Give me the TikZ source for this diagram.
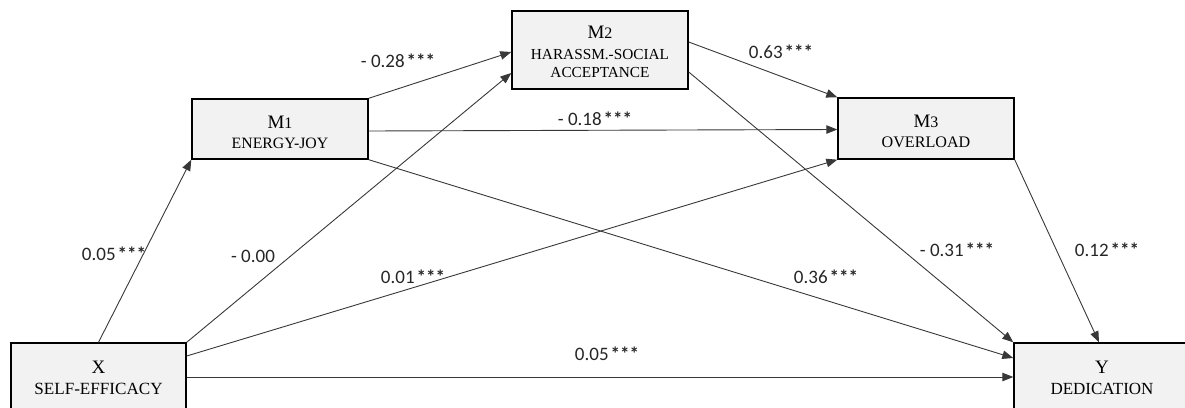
\documentclass[tikz,border=0pt]{standalone}
\usepackage{fontspec}
\setmainfont{Liberation Serif}
\newfontfamily\lblfont{Carlito}
\usetikzlibrary{arrows.meta,calc}
\definecolor{boxfill}{HTML}{F2F2F2}
\definecolor{linec}{HTML}{383838}
% title letter with a smaller index; #1 = strut height above the first baseline
\newcommand{\boxtitle}[3]{\rule{0pt}{#1pt}{\fontsize{19}{19}\selectfont #2}{\fontsize{16}{16}\selectfont #3}}
\newcommand{\lastline}[1]{\rule[-4pt]{0pt}{4pt}#1}
\newcommand{\sigstars}{\kern2pt{\bfseries ***}}
\begin{document}
\begin{tikzpicture}[x=1pt,y=-1pt,
  box/.style={draw=black, line width=1.4pt, fill=boxfill, minimum width=176pt,
    align=center, inner sep=0pt},
  conn/.style={draw=linec, line width=0.9pt, -{Triangle[length=11pt,width=8.5pt]}},
  coef/.style={font=\lblfont\fontsize{19}{19}\selectfont, inner sep=0pt, text=black!85}]
\useasboundingbox (0,0) rectangle (1185,407);

\node[box, minimum height=60pt, font=\fontsize{15.8}{20}\selectfont] (m1) at (280,129)
  {\boxtitle{22}{M}{1}\\\lastline{ENERGY-JOY}};
\node[box, minimum height=78pt, font=\fontsize{15.3}{21}\selectfont] (m2) at (600,50)
  {\boxtitle{19}{M}{2}\\HARASSM.-SOCIAL\\[-3pt]\lastline{ACCEPTANCE}};
\node[box, minimum height=61pt, font=\fontsize{16.1}{20}\selectfont] (m3) at (926,128.5)
  {\boxtitle{21}{M}{3}\\\lastline{OVERLOAD}};
\node[box, minimum width=175pt, minimum height=69pt, font=\fontsize{17.1}{21}\selectfont] (x) at (98.5,377.5)
  {\boxtitle{16}{X}{}\\\lastline{SELF-EFFICACY}};
\node[box, minimum height=69pt, font=\fontsize{17}{21}\selectfont] (y) at (1102,377.5)
  {\boxtitle{16}{Y}{}\\\lastline{DEDICATION}};

\draw[conn] (x.north) -- (m1.south west);
\draw[conn] (x.north east) -- ([yshift=-23pt]m2.west);
\draw[conn] ([yshift=21.5pt]x.east) -- (m3.south west);
\draw[conn] ([yshift=0.5pt]x.east) -- ([yshift=0.5pt]y.west);
\draw[conn] (m1.north east) -- ([yshift=-2pt]m2.west);
\draw[conn] ([yshift=-2pt]m1.east) -- ([yshift=-1pt]m3.west);
\draw[conn] (m1.south east) -- ([yshift=19.5pt]y.west);
\draw[conn] ([yshift=8pt]m2.east) -- (m3.north west);
\draw[conn] ([yshift=-22pt]m2.east) -- (y.north west);
\draw[conn] (m3.south east) -- ([xshift=-3pt]y.north);

\node[coef] (l1) at (398,61) {- 0.28\sigstars};
\node[coef] (l2) at (595,119) {- 0.18\sigstars};
\node[coef] (l3) at (781,52) {0.63\sigstars};
\node[coef] (l4) at (114,254) {0.05\sigstars};
\node[coef] (l5) at (253,256) {- 0.00};
\node[coef] (l6) at (413,277) {0.01\sigstars};
\node[coef] (l7) at (826,277) {0.36\sigstars};
\node[coef] (l8) at (957,250) {- 0.31\sigstars};
\node[coef] (l9) at (1107,250) {0.12\sigstars};
\node[coef] (l10) at (607,354) {0.05\sigstars};
\end{tikzpicture}
\end{document}
